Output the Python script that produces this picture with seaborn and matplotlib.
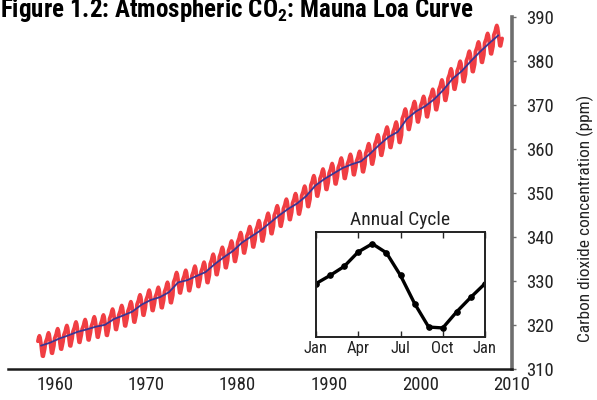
import numpy as np
import pandas as pd
import matplotlib
matplotlib.use("Agg")
import matplotlib.pyplot as plt
import seaborn as sns

# Annual mean CO2 at Mauna Loa (ppm)
years = list(range(1958, 2009))
annual_mean = [
    315.3, 315.98, 316.91, 317.64, 318.45, 318.99, 319.62, 320.04, 321.37, 322.18,
    323.05, 324.62, 325.68, 326.32, 327.46, 329.68, 330.19, 331.13, 332.03, 333.84,
    335.41, 336.84, 338.76, 340.12, 341.48, 343.15, 344.85, 346.35, 347.61, 349.31,
    351.69, 353.20, 354.45, 355.70, 356.54, 357.21, 358.96, 360.97, 362.74, 363.88,
    366.84, 368.54, 369.71, 371.32, 373.45, 375.98, 377.70, 379.98, 382.09, 384.02,
    385.83,
]

cycle_months = list(range(13))
cycle_values = [0.05, 0.5, 1.0, 1.8, 2.25, 1.75, 0.5, -1.05, -2.35, -2.4, -1.5, -0.7, 0.05]
cycle_ticks = [0, 3, 6, 9, 12]
cycle_labels = ["Jan", "Apr", "Jul", "Oct", "Jan"]

y_ticks = [310, 320, 330, 340, 350, 360, 370, 380, 390]
x_ticks = [1960, 1970, 1980, 1990, 2000, 2010]

# monthly record = annual mean + seasonal anomaly (record starts March 1958)
rows = []
for yr, mean in zip(years, annual_mean):
    for m in range(12):
        if yr == 1958 and m < 2:
            continue
        rows.append({"time": yr + m / 12.0, "co2": mean + cycle_values[m]})
monthly = pd.DataFrame(rows)
trend = pd.DataFrame({"time": [y + 0.5 for y in years], "co2": annual_mean})
cycle = pd.DataFrame({"month": cycle_months, "co2": cycle_values})

sns.set_style("white")
plt.rcParams["font.family"] = ["Roboto Condensed", "Liberation Sans", "DejaVu Sans"]
plt.rcParams["mathtext.default"] = "regular"

fig = plt.figure(figsize=(5.97, 4.0), dpi=100)
ax = fig.add_axes([0.0134, 0.0775, 0.8443, 0.88])

sns.lineplot(data=monthly, x="time", y="co2", color="#ee2329", lw=2.7, alpha=0.88, ax=ax)
sns.lineplot(data=trend, x="time", y="co2", color="#3a3593", lw=1.3, ax=ax)

ax.set_xlim(1954.9, 2010)
ax.set_ylim(310, 390)
ax.set_xticks(x_ticks)
ax.set_yticks(y_ticks)
ax.set_xlabel("")
ax.set_ylabel("")
ax.yaxis.tick_right()
ax.spines["left"].set_visible(False)
ax.spines["top"].set_visible(False)
ax.spines["right"].set_color("#6e6e6e")
ax.spines["right"].set_linewidth(2.6)
ax.spines["bottom"].set_color("#1a1a1a")
ax.spines["bottom"].set_linewidth(1.8)
ax.tick_params(axis="y", direction="out", length=3, width=1, color="#6e6e6e",
               labelsize=13.5, pad=7, labelcolor="#222222", right=True, left=False)
ax.tick_params(axis="x", direction="in", length=4, width=1, color="#333333",
               labelsize=13.5, pad=5, labelcolor="#222222")

fig.text(585 / 597, 1 - 218 / 400, "Carbon dioxide concentration (ppm)",
         rotation=90, ha="center", va="center", fontsize=12.5, color="#222222")

fig.text(0.0, 1 - 17 / 400, "Figure 1.2: Atmospheric CO$_2$: Mauna Loa Curve",
         ha="left", va="baseline", fontsize=18, fontweight="bold", color="black")

# inset: annual cycle
ins = fig.add_axes([316 / 597, 1 - 337 / 400, 169 / 597, 105 / 400])
sns.lineplot(data=cycle, x="month", y="co2", color="black", lw=2.4,
             marker="o", markersize=4, markeredgecolor="black", ax=ins)
ins.set_xlim(0, 12)
ins.set_ylim(-2.9, 2.9)
ins.set_xticks(cycle_ticks)
ins.set_xticklabels(cycle_labels)
ins.set_yticks([])
ins.set_xlabel("")
ins.set_ylabel("")
for s in ins.spines.values():
    s.set_visible(True)
    s.set_color("#222222")
    s.set_linewidth(1.4)
ins.tick_params(axis="x", direction="in", length=4, width=1, top=True, bottom=True,
                labelsize=12, pad=3, labelcolor="#222222")
ins.set_title("Annual Cycle", fontsize=14, pad=5, color="#222222")

fig.savefig("out.png", dpi=100)
